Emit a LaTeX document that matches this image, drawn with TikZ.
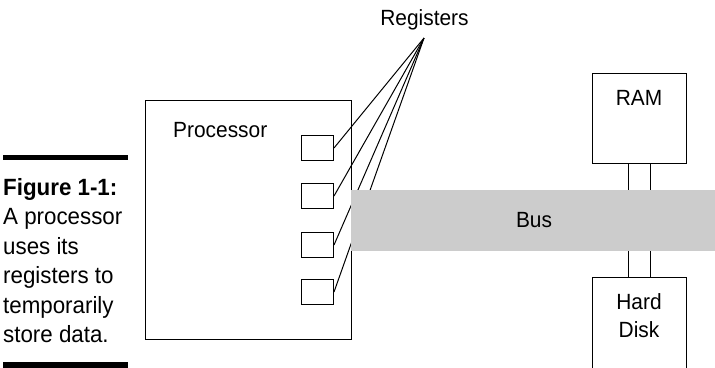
\documentclass[tikz,border=0pt]{standalone}
\usepackage{fontspec}
\setmainfont[FakeStretch=0.95]{Liberation Sans}
\begin{document}
\begin{tikzpicture}[x=1bp,y=-1bp,
  lbl/.style={font=\fontsize{22bp}{26bp}\selectfont, inner sep=0pt},
  captext/.style={font=\fontsize{23.5bp}{28bp}\selectfont, inner sep=0pt, anchor=base west},
  regbox/.style={draw=black, line width=1bp, fill=white, minimum width=32bp, minimum height=25bp, inner sep=0pt},
  bigbox/.style={draw=black, line width=1.3bp, fill=white, inner sep=0pt},
  wire/.style={draw=black, line width=1bp},
  rulebar/.style={fill=black, draw=none, inner sep=0pt}]
\useasboundingbox (0,0) rectangle (715,367);
% caption
\node[rulebar, minimum width=125bp, minimum height=5bp, anchor=north west] (rtop) at (3,154.5) {};
\node[rulebar, minimum width=125bp, minimum height=6bp, anchor=north west] (rbot) at (3,362) {};
\node[captext, font=\fontsize{23.5bp}{28bp}\selectfont\bfseries] (c0) at (3,195) {Figure 1-1:};
\node[captext] (c1) at (3,224.5) {A processor};
\node[captext] (c2) at (3,254) {uses its};
\node[captext] (c3) at (3,283.5) {registers to};
\node[captext] (c4) at (3,313) {temporarily};
\node[captext] (c5) at (3,342.5) {store data.};
% processor
\node[bigbox, minimum width=206bp, minimum height=239bp, anchor=north west] (proc) at (145,100) {};
\node[lbl, anchor=base west] (proclbl) at (173,137) {Processor};
\node[regbox, anchor=north west] (r1) at (301,135) {};
\node[regbox, anchor=north west] (r2) at (301,183) {};
\node[regbox, anchor=north west] (r3) at (301,232) {};
\node[regbox, anchor=north west] (r4) at (301,279) {};
\node[lbl, anchor=base] (reglbl) at (424.5,25) {Registers};
\coordinate (conv) at (424,38);
\foreach \r in {r1,r2,r3,r4} \draw[wire] (\r.east) -- (conv);
% RAM / disk
\node[bigbox, line width=1bp, minimum width=94bp, minimum height=90bp, anchor=north west] (ram) at (592,73) {};
\node[lbl, anchor=base] (ramlbl) at (639,105) {RAM};
\node[bigbox, line width=1bp, minimum width=94bp, minimum height=95bp, anchor=north west] (hd) at (592,277) {};
\node[lbl, anchor=base, align=center] (hdlbl1) at (639,309) {Hard};
\node[lbl, anchor=base, align=center] (hdlbl2) at (639,337) {Disk};
\draw[wire] ([xshift=-11bp]ram.south) -- ([xshift=-11bp]hd.north);
\draw[wire] ([xshift=11bp]ram.south) -- ([xshift=11bp]hd.north);
% bus
\node[fill=black!20, draw=none, inner sep=0pt, minimum width=364bp, minimum height=61bp, anchor=north west] (bus) at (351,190) {};
\node[lbl, anchor=base] (buslbl) at (534,227) {Bus};
\end{tikzpicture}
\end{document}
